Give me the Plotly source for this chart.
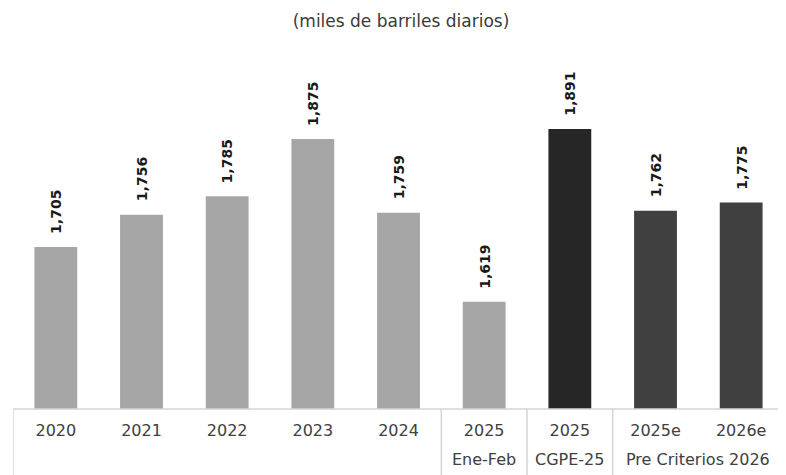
import plotly.graph_objects as go

# Data (miles de barriles diarios)
categories = ["2020", "2021", "2022", "2023", "2024", "2025 Ene-Feb", "2025 CGPE", "2025e", "2026e"]
tick_labels = ["2020", "2021", "2022", "2023", "2024", "2025", "2025", "2025e", "2026e"]
values = [1705, 1756, 1785, 1875, 1759, 1619, 1891, 1762, 1775]
groups = ["Ene-Feb", "CGPE-25", "Pre Criterios 2026"]
group_centers = [5, 6, 7.5]
separators = [-0.5, 4.5, 5.5, 6.5, 8.5]

LIGHT = "#A6A6A6"
BLACK = "#262626"
DARK = "#404040"
LINE = "#D4D4D4"
TEXT = "#404040"
FONT = "'DejaVu Sans', sans-serif"

colors = [LIGHT] * 6 + [BLACK] + [DARK] * 2

fig = go.Figure(go.Bar(
    x=categories,
    y=values,
    marker={"color": colors, "line": {"width": 0}},
    width=0.5,
    hoverinfo="x+y",
))

# rotated value labels above each bar (x as category index)
for i, v in enumerate(values):
    fig.add_annotation(
        x=i, y=v, text=f"<b>{v:,}</b>", textangle=-90,
        showarrow=False, yanchor="bottom", yshift=11,
        font={"family": FONT, "size": 14, "color": "#1A1A1A"},
    )

# second row of category labels
for g, xc in zip(groups, group_centers):
    fig.add_annotation(
        x=xc, y=0, xref="x", yref="paper", text=g, showarrow=False,
        yanchor="middle", yshift=-50,
        font={"family": FONT, "size": 16, "color": TEXT},
    )

# table-like axis borders
fig.add_shape(type="line", xref="x", yref="paper", x0=-0.5, x1=8.5, y0=0, y1=0,
              line={"color": LINE, "width": 1.5})
for s in separators:
    fig.add_shape(type="line", xref="x", yref="paper", x0=s, x1=s, y0=0, y1=-0.25,
                  line={"color": LINE, "width": 1.5})

# page body adds an 8px offset, margins compensate for it
fig.update_layout(
    width=786,
    height=475,
    paper_bgcolor="white",
    plot_bgcolor="white",
    showlegend=False,
    margin={"l": 5, "r": 10, "t": 32, "b": 74},
    title={
        "text": "(miles de barriles diarios)",
        "x": 0.5, "xanchor": "center", "y": 0.972, "yanchor": "middle",
        "font": {"family": FONT, "size": 17, "color": "#3A3A3A"},
    },
    font={"family": FONT, "color": TEXT},
)
fig.update_xaxes(
    type="category",
    range=[-0.5, 8.5],
    tickvals=categories,
    ticktext=tick_labels,
    tickfont={"family": FONT, "size": 16, "color": TEXT},
    ticks="",
    ticklen=0,
    ticklabelstandoff=10,
    showline=False,
    showgrid=False,
    zeroline=False,
    automargin=False,
)
fig.update_yaxes(
    range=[1450, 2031],
    visible=False,
    showgrid=False,
    zeroline=False,
)

fig.write_html("out.html")
